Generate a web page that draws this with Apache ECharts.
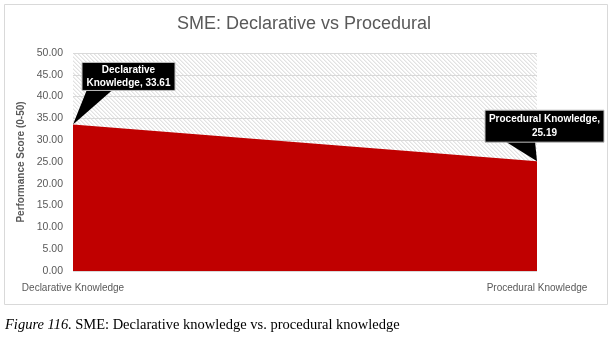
<!DOCTYPE html>
<html><head><meta charset="utf-8">
<script src="https://cdn.jsdelivr.net/npm/echarts@6/dist/echarts.min.js"></script>
<style>html,body{margin:0;padding:0;background:#fff}#c{width:608px;height:342px}</style>
</head><body><div id="c"></div>
<script>
const categories = ['Declarative Knowledge', 'Procedural Knowledge'];
const values = [33.61, 25.19];
const yTicks = [0, 5, 10, 15, 20, 25, 30, 35, 40, 45, 50];
const titleText = 'SME: Declarative vs Procedural';
const yName = 'Performance Score (0-50)';

const pc = document.createElement('canvas');
pc.width = 4; pc.height = 4;
const g = pc.getContext('2d');
g.fillStyle = '#ffffff'; g.fillRect(0,0,4,4);
g.fillStyle = '#e2e2e2';
for (let i = 0; i < 4; i++) { g.fillRect(i, i, 1, 1); }
g.fillStyle = '#f0f0f0';
for (let i = 0; i < 4; i++) { g.fillRect((i+1)%4, i, 1, 1); }

const chart = echarts.init(document.getElementById('c'), null, {renderer:'canvas'});
const font = 'Liberation Sans, Arial, sans-serif';
chart.setOption({
  animation:false,
  title:{text:titleText,left:'center',top:10,textStyle:{fontFamily:font,fontSize:18,fontWeight:'normal',color:'#595959'}},
  grid:{left:73,right:71,top:53,bottom:71,show:true,borderWidth:0,backgroundColor:{image:pc,repeat:'repeat'}},
  xAxis:{type:'category',data:categories,boundaryGap:false,
    axisLine:{show:false},axisTick:{show:false},
    axisLabel:{color:'#595959',fontFamily:font,fontSize:10,margin:12,interval:0}},
  yAxis:{type:'value',min:0,max:50,interval:5,
    name:yName,nameLocation:'middle',nameGap:37,nameTextStyle:{fontFamily:font,fontSize:10,fontWeight:'bold',color:'#595959'},
    axisLabel:{color:'#595959',fontFamily:font,fontSize:10.5,formatter:v=>v.toFixed(2),margin:10},
    splitLine:{lineStyle:{color:'#d9d9d9'}},axisLine:{show:false},axisTick:{show:false}},
  series:[{type:'line',data:values,symbol:'none',lineStyle:{width:0},areaStyle:{color:'#c00000',opacity:1},z:3}]
});

const p0 = chart.convertToPixel({xAxisIndex:0,yAxisIndex:0},[0,values[0]]);
const p1 = chart.convertToPixel({xAxisIndex:0,yAxisIndex:0},[1,values[1]]);
const lblFont = 'bold 10px ' + font;
chart.setOption({graphic:[
  {type:'rect',left:2,top:2,shape:{width:603,height:300},style:{fill:'none',stroke:'#d9d9d9',lineWidth:1},z:-10,silent:true},
  {type:'polygon',shape:{points:[[p0[0]+14,p0[1]-35],[p0[0]+40,p0[1]-35],p0]},style:{fill:'#000'},z:10},
  {type:'rect',shape:{x:p0[0]+9,y:p0[1]-62,width:93,height:28},style:{fill:'#000',stroke:'#bfbfbf',lineWidth:1},z:10},
  {type:'text',style:{x:p0[0]+55.5,y:p0[1]-48,text:categories[0].split(' ')[0]+'\n'+categories[0].split(' ')[1]+', '+values[0].toFixed(2),
     fill:'#fff',font:lblFont,align:'center',verticalAlign:'middle',lineHeight:13},z:11},
  {type:'polygon',shape:{points:[[p1[0]-32,p1[1]-20],[p1[0]-2,p1[1]-20],p1]},style:{fill:'#000'},z:10},
  {type:'rect',shape:{x:p1[0]-52,y:p1[1]-51,width:119,height:32},style:{fill:'#000',stroke:'#bfbfbf',lineWidth:1},z:10},
  {type:'text',style:{x:p1[0]+7.5,y:p1[1]-35,text:categories[1]+',\n'+values[1].toFixed(2),
     fill:'#fff',font:lblFont,align:'center',verticalAlign:'middle',lineHeight:14},z:11},
  {type:'text',left:5,top:318,style:{rich:{i:{fontFamily:'Liberation Serif',fontStyle:'italic',fontSize:14.5,fill:'#000'},n:{fontFamily:'Liberation Serif',fontSize:14.5,fill:'#000'}},
     text:'{i|Figure 116.} {n|SME: Declarative knowledge vs. procedural knowledge}'}}
]});
</script></body></html>
